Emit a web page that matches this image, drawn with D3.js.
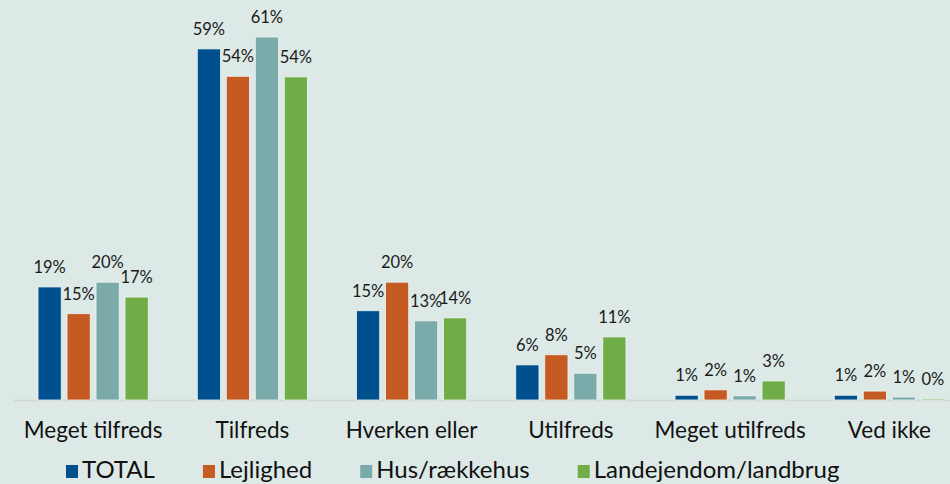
<!DOCTYPE html>
<html>
<head>
<meta charset="utf-8">
<script src="https://cdn.jsdelivr.net/npm/d3@7"></script>
<style>
  body { margin: 0; background: #dce9e6; }
  svg { display: block; font-family: Lato, "Open Sans", sans-serif; }
</style>
</head>
<body>
<svg id="chart" width="950" height="484"></svg>
<script>
// chart data
var categories = ['Meget tilfreds', 'Tilfreds', 'Hverken eller', 'Utilfreds', 'Meget utilfreds', 'Ved ikke'];
var seriesNames = ['TOTAL', 'Lejlighed', 'Hus/rækkehus', 'Landejendom/landbrug'];
var colors = ['#00508f', '#c55a22', '#7aabaa', '#70ad47'];

var total = [19, 59, 15, 5.9, 0.8, 0.8];
var lejlighed = [14.5, 54.4, 19.8, 7.6, 1.7, 1.5];
var hus = [19.8, 61, 13.3, 4.5, 0.7, 0.5];
var landbrug = [17.3, 54.3, 13.8, 10.6, 3.2, 0.2];

var values = [total, lejlighed, hus, landbrug];

var svg = d3.select('#chart');
var width = +svg.attr('width'), height = +svg.attr('height');

var baseY = 400;

var x0 = d3.scaleBand()
  .domain(categories)
  .range([13.5, 969])
  .paddingInner(0)
  .paddingOuter(0);

var x1 = d3.scaleBand()
  .domain(d3.range(seriesNames.length))
  .range([0, 116])
  .paddingInner(0.2)
  .paddingOuter(0.1);

var y = d3.scaleLinear()
  .domain([0, 61])
  .range([baseY, 37]);

// axis line
svg.append('line')
  .attr('x1', 14).attr('x2', width)
  .attr('y1', baseY + 0.5).attr('y2', baseY + 0.5)
  .attr('stroke', '#cfd6d4')
  .attr('stroke-width', 1.5);

var groups = svg.append('g')
  .selectAll('g')
  .data(categories)
  .enter().append('g')
  .attr('transform', function(d) {
    return 'translate(' + (x0(d) + (x0.bandwidth() - 116) / 2) + ',0)';
  });

var cells = groups.selectAll('g')
  .data(function(d, i) {
    return values.map(function(s, k) { return {k: k, v: s[i]}; });
  })
  .enter().append('g');

cells.append('rect')
  .attr('x', function(d) { return x1(d.k); })
  .attr('y', function(d) { return y(d.v); })
  .attr('width', x1.bandwidth())
  .attr('height', function(d) { return baseY - y(d.v); })
  .attr('fill', function(d) { return colors[d.k]; })
  .attr('stroke', '#eef5f3')
  .attr('stroke-width', 0.8);

cells.append('text')
  .attr('x', function(d) { return x1(d.k) + x1.bandwidth() / 2; })
  .attr('y', function(d) { return y(d.v) - 14; })
  .attr('text-anchor', 'middle')
  .attr('font-size', 16.5)
  .attr('fill', '#1a1a1a')
  .text(function(d) { return Math.round(d.v) + '%'; });

// category labels
svg.append('g')
  .selectAll('text')
  .data(categories)
  .enter().append('text')
  .attr('x', function(d) { return x0(d) + x0.bandwidth() / 2; })
  .attr('y', 438)
  .attr('text-anchor', 'middle')
  .attr('font-size', 22.5)
  .attr('fill', '#111')
  .text(function(d) { return d; });

// legend
var legend = svg.append('g');
var lx = 66;
seriesNames.forEach(function(name, k) {
  var item = legend.append('g').attr('transform', 'translate(' + lx + ',0)');
  item.append('rect')
    .attr('x', 0).attr('y', 465)
    .attr('width', 12).attr('height', 13)
    .attr('fill', colors[k]);
  var t = item.append('text')
    .attr('x', 16).attr('y', 478)
    .attr('font-size', 24)
    .attr('fill', '#111')
    .text(name);
  lx += 16 + t.node().getComputedTextLength() + 48;
});
</script>
</body>
</html>
